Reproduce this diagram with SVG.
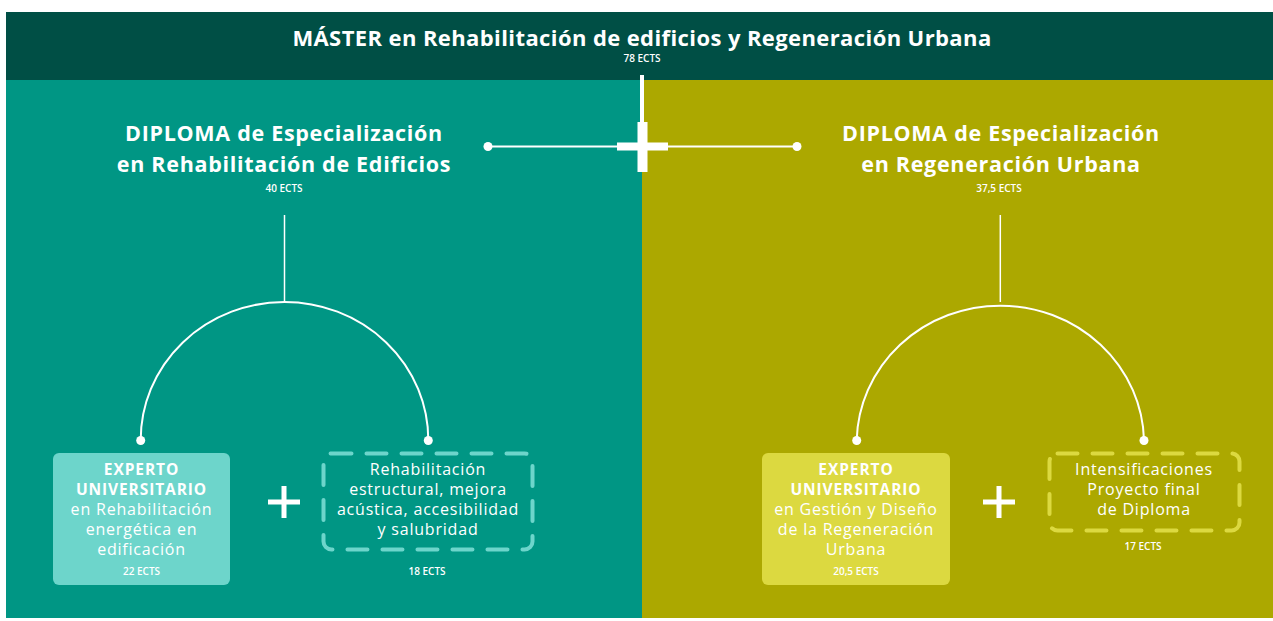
<svg xmlns="http://www.w3.org/2000/svg" width="1273" height="621" viewBox="0 0 1273 621">
<style>
text{font-family:"Open Sans","Liberation Sans",sans-serif;fill:#fff;text-anchor:middle}
.h{font-weight:700;font-size:22px;letter-spacing:0.4px}
.d{font-weight:700;font-size:21.5px;letter-spacing:0.7px}
.e{font-weight:600;font-size:10px}
.b{font-weight:700;font-size:15.5px;letter-spacing:0.9px}
.r{font-weight:400;font-size:16px;letter-spacing:0.8px}
.ln{stroke:#fff;fill:none}
.dash1{fill:none;stroke:#6dd5cb;stroke-width:4;stroke-dasharray:20 15;stroke-linecap:round}
.dash2{fill:none;stroke:#dcd940;stroke-width:4;stroke-dasharray:20 15;stroke-linecap:round}
</style>
<rect x="0" y="0" width="1273" height="621" fill="#fff"/>
<g id="panels">
<rect x="6" y="80" width="636" height="538" fill="#009684"/>
<rect x="642" y="80" width="631" height="538" fill="#aca800"/>
<rect x="6" y="12" width="1267" height="68" fill="#004f45"/>
</g>
<g id="master">
<text class="h" x="642" y="46">MÁSTER en Rehabilitación de edificios y Regeneración Urbana</text>
<text class="e" x="642" y="62">78 ECTS</text>
</g>
<g id="connectors">
<line class="ln" x1="488" y1="146.5" x2="797" y2="146.5" stroke-width="2"/>
<rect x="640" y="75" width="4" height="50" fill="#fff"/>
<rect x="637.5" y="122" width="10" height="50" fill="#fff"/>
<rect x="617" y="142.5" width="51" height="8" fill="#fff"/>
<circle cx="488" cy="146.5" r="4.5" fill="#fff"/>
<circle cx="797" cy="146.5" r="4.5" fill="#fff"/>
<line class="ln" x1="284.5" y1="215" x2="284.5" y2="302" stroke-width="1.5"/>
<path class="ln" d="M140.7 440 A143.8 138 0 0 1 428.3 440" stroke-width="2"/>
<circle cx="140.7" cy="440.5" r="4.5" fill="#fff"/>
<circle cx="428.3" cy="440.5" r="4.5" fill="#fff"/>
<line class="ln" x1="1000.3" y1="215" x2="1000.3" y2="302" stroke-width="1.5"/>
<path class="ln" d="M856.7 440 A143.7 138 0 0 1 1144 440" stroke-width="2"/>
<circle cx="856.7" cy="440.5" r="4.5" fill="#fff"/>
<circle cx="1144" cy="440.5" r="4.5" fill="#fff"/>
</g>
<g id="diploma-rehab">
<text class="d" x="284" y="141">DIPLOMA de Especialización</text>
<text class="d" x="284" y="172">en Rehabilitación de Edificios</text>
<text class="e" x="284" y="192">40 ECTS</text>
</g>
<g id="diploma-regen">
<text class="d" x="1001" y="141">DIPLOMA de Especialización</text>
<text class="d" x="1001" y="172">en Regeneración Urbana</text>
<text class="e" x="999" y="192">37,5 ECTS</text>
</g>
<g id="experto-rehab">
<rect x="53" y="453" width="177" height="132" rx="6" fill="#6dd5cb"/>
<text class="b" x="141.5" y="475">EXPERTO</text>
<text class="b" x="141.5" y="495">UNIVERSITARIO</text>
<text class="r" x="141.5" y="515">en Rehabilitación</text>
<text class="r" x="141.5" y="535">energética en</text>
<text class="r" x="141.5" y="555">edificación</text>
<text class="e" x="141.5" y="575">22 ECTS</text>
</g>
<g id="plus-left">
<rect x="268" y="499.5" width="32" height="5" fill="#fff"/>
<rect x="281.5" y="486" width="5" height="32" fill="#fff"/>
</g>
<g id="rehab-estructural">
<rect class="dash1" x="323.5" y="453.5" width="209" height="96" rx="8"/>
<text class="r" x="428" y="475">Rehabilitación</text>
<text class="r" x="428" y="495">estructural, mejora</text>
<text class="r" x="428" y="515">acústica, accesibilidad</text>
<text class="r" x="428" y="535">y salubridad</text>
<text class="e" x="427" y="575">18 ECTS</text>
</g>
<g id="experto-regen">
<rect x="762" y="453" width="188" height="132" rx="6" fill="#dcd940"/>
<text class="b" x="856" y="475">EXPERTO</text>
<text class="b" x="856" y="495">UNIVERSITARIO</text>
<text class="r" x="856" y="515">en Gestión y Diseño</text>
<text class="r" x="856" y="535">de la Regeneración</text>
<text class="r" x="856" y="555">Urbana</text>
<text class="e" x="856" y="575">20,5 ECTS</text>
</g>
<g id="plus-right">
<rect x="983" y="499.5" width="32" height="5" fill="#fff"/>
<rect x="996.5" y="486" width="5" height="32" fill="#fff"/>
</g>
<g id="intensificaciones">
<rect class="dash2" x="1049.5" y="453.5" width="190" height="77" rx="8"/>
<text class="r" x="1144" y="475">Intensificaciones</text>
<text class="r" x="1144" y="495">Proyecto final</text>
<text class="r" x="1144" y="515">de Diploma</text>
<text class="e" x="1143" y="550">17 ECTS</text>
</g>
</svg>
